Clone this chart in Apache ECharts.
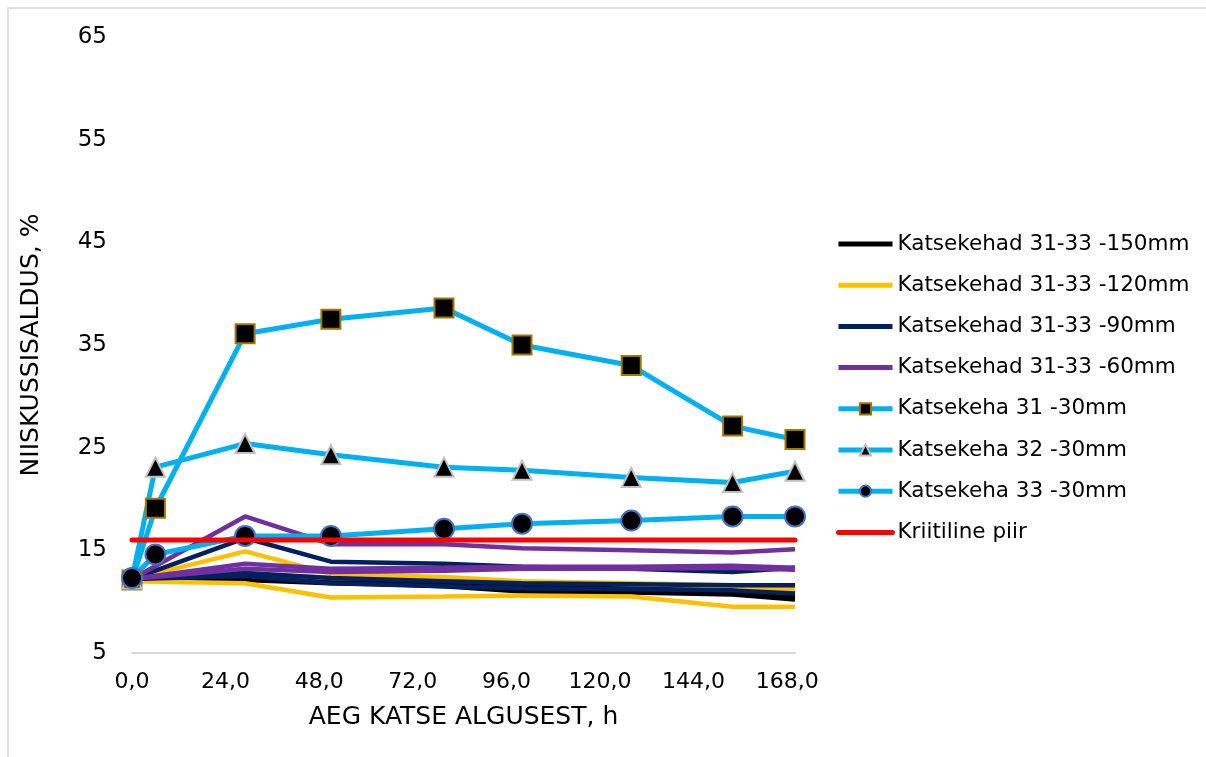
<!DOCTYPE html>
<html>
<head>
<meta charset="utf-8">
<title>Niiskussisaldus</title>
<script src="https://cdn.jsdelivr.net/npm/echarts@6/dist/echarts.min.js"></script>
<style>
  html, body { margin: 0; padding: 0; background: #fff; }
  #chart { width: 1206px; height: 757px; }
</style>
</head>
<body>
<div id="chart"></div>
<script>
// Measurement times (h)
const timesSingle = [0, 6, 29, 51, 80, 100, 128, 154, 170];
const timesGroup = [0, 29, 51, 80, 100, 128, 154, 170];
const timesLimit = [0, 170];

// Moisture content (%) of the 150 mm layer, specimens 31-33
const mm150_a = [12.2, 12.4, 11.9, 11.5, 11.0, 10.9, 10.7, 10.2];
const mm150_b = [12.2, 12.1, 11.8, 11.6, 11.3, 11.2, 11.0, 10.5];
const mm150_c = [12.2, 12.6, 12.2, 11.9, 11.6, 11.4, 11.2, 10.8];

// 120 mm layer
const mm120_a = [12.2, 14.9, 12.7, 12.4, 12.0, 11.8, 11.6, 11.3];
const mm120_b = [12.2, 12.8, 12.3, 12.2, 11.9, 11.7, 11.5, 11.0];
const mm120_c = [12.0, 11.8, 10.4, 10.5, 10.6, 10.5, 9.5, 9.5];

// 90 mm layer
const mm90_a = [12.2, 16.2, 13.9, 13.7, 13.4, 13.2, 12.9, 13.3];
const mm90_b = [12.2, 12.8, 12.3, 12.0, 11.8, 11.7, 11.6, 11.6];
const mm90_c = [12.2, 12.5, 11.8, 11.5, 11.3, 11.2, 11.1, 10.8];

// 60 mm layer
const mm60_a = [12.2, 18.3, 15.6, 15.6, 15.2, 15.0, 14.8, 15.1];
const mm60_b = [12.2, 13.7, 13.2, 13.3, 13.4, 13.4, 13.5, 13.3];
const mm60_c = [12.2, 13.2, 12.9, 13.0, 13.2, 13.2, 13.3, 13.1];

// 30 mm depth, individual specimens
const spec31 = [12.1, 19.1, 36.1, 37.5, 38.6, 35.0, 33.0, 27.1, 25.8];
const spec32 = [12.2, 23.1, 25.4, 24.3, 23.1, 22.8, 22.1, 21.6, 22.7];
const spec33 = [12.3, 14.6, 16.4, 16.4, 17.1, 17.6, 17.9, 18.3, 18.3];

// Critical moisture limit
const limitValues = [16, 16];

// Axis ticks
const yTicks = [5, 15, 25, 35, 45, 55, 65];

const names = [
  'Katsekehad 31-33 -150mm',
  'Katsekehad 31-33 -120mm',
  'Katsekehad 31-33 -90mm',
  'Katsekehad 31-33 -60mm',
  'Katsekeha 31 -30mm',
  'Katsekeha 32 -30mm',
  'Katsekeha 33 -30mm',
  'Kriitiline piir'
];

const pair = (xs, ys) => xs.map((x, i) => [x, ys[i]]);

function plainLine(name, values, color) {
  return {
    name: name,
    type: 'line',
    data: pair(timesGroup, values),
    symbol: 'none',
    lineStyle: { color: color, width: 4.5 },
    itemStyle: { color: color },
    z: 2
  };
}

function markedLine(name, values, symbol, size, border) {
  return {
    name: name,
    type: 'line',
    data: pair(timesSingle, values),
    symbol: symbol,
    symbolSize: size,
    showSymbol: true,
    lineStyle: { color: '#00B0F0', width: 5 },
    itemStyle: { color: '#000000', borderColor: border, borderWidth: 2 },
    z: 3
  };
}

const series = [
  plainLine(names[0], mm150_a, '#000000'),
  plainLine(names[0], mm150_b, '#000000'),
  plainLine(names[0], mm150_c, '#000000'),
  plainLine(names[1], mm120_a, '#FFC000'),
  plainLine(names[1], mm120_b, '#FFC000'),
  plainLine(names[1], mm120_c, '#FFC000'),
  plainLine(names[2], mm90_a, '#002060'),
  plainLine(names[2], mm90_b, '#002060'),
  plainLine(names[2], mm90_c, '#002060'),
  plainLine(names[3], mm60_a, '#7030A0'),
  plainLine(names[3], mm60_b, '#7030A0'),
  plainLine(names[3], mm60_c, '#7030A0'),
  markedLine(names[4], spec31, 'rect', 19, '#A07800'),
  markedLine(names[5], spec32, 'triangle', 19, '#BFBFBF'),
  markedLine(names[6], spec33, 'circle', 20, '#4472C4'),
  {
    name: names[7],
    type: 'line',
    data: pair(timesLimit, limitValues),
    symbol: 'none',
    lineStyle: { color: '#FF0000', width: 5, cap: 'round' },
    itemStyle: { color: '#FF0000' },
    z: 4
  }
];

// Plain lines get a line-only legend key; marked lines keep their symbol
const legendData = names.map((n, i) =>
  (i >= 4 && i <= 6) ? { name: n } : { name: n, itemStyle: { opacity: 0 } }
);

const chart = echarts.init(document.getElementById('chart'), null, { renderer: 'canvas' });
chart.setOption({
  animation: false,
  backgroundColor: '#ffffff',
  textStyle: { fontFamily: 'DejaVu Sans' },
  graphic: [{
    // chart frame: left and top edges
    type: 'polyline',
    shape: { points: [[8, 800], [8, 8], [1300, 8]] },
    style: { fill: 'none', stroke: '#D9D9D9', lineWidth: 1.5 },
    silent: true
  }],
  grid: { left: 132, right: 411, top: 37, bottom: 104, containLabel: false },
  legend: {
    orient: 'vertical',
    left: 831,
    top: 228,
    itemWidth: 54,
    itemHeight: 14,
    itemGap: 19.2,
    data: legendData,
    lineStyle: { width: 5 },
    textStyle: { fontSize: 21.5, color: '#000000', fontFamily: 'DejaVu Sans', lineHeight: 21 }
  },
  xAxis: {
    type: 'value',
    min: 0,
    max: 170,
    interval: 24,
    name: 'AEG KATSE ALGUSEST, h',
    nameLocation: 'middle',
    nameGap: 52,
    nameTextStyle: { fontSize: 25, color: '#000000' },
    axisLine: { show: true, onZero: false, lineStyle: { color: '#D9D9D9', width: 2 } },
    axisTick: { show: false },
    splitLine: { show: false },
    axisLabel: {
      fontSize: 22,
      color: '#000000',
      margin: 18,
      showMaxLabel: false,
      formatter: v => (v % 24 === 0 ? v.toFixed(1).replace('.', ',') : '')
    }
  },
  yAxis: {
    type: 'value',
    min: 5,
    max: 65,
    name: 'NIISKUSSISALDUS, %',
    nameLocation: 'middle',
    nameGap: 88,
    nameTextStyle: { fontSize: 25, color: '#000000' },
    axisLine: { show: false },
    axisTick: { show: false },
    splitLine: { show: false },
    axisLabel: {
      fontSize: 23,
      color: '#000000',
      margin: 25,
      customValues: yTicks
    }
  },
  series: series
});
</script>
</body>
</html>
